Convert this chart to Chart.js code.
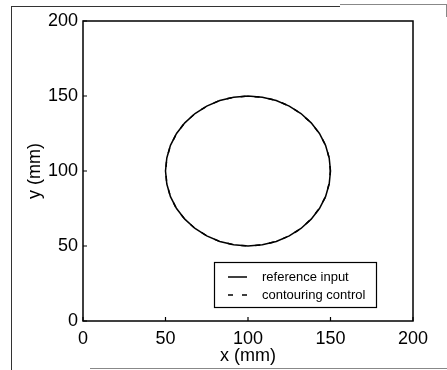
<!DOCTYPE html>
<html>
<head>
<meta charset="utf-8">
<script src="https://cdn.jsdelivr.net/npm/chart.js@4/dist/chart.umd.min.js"></script>
<style>
  html, body { margin: 0; padding: 0; background: #fff; }
  #wrap { width: 447px; height: 370px; }
</style>
</head>
<body>
<div id="wrap"><canvas id="c" width="447" height="370"></canvas></div>
<script>
// Circular path, 10-degree steps (mm)
const refX = [150,149.2,147,143.3,138.3,132.1,125,117.1,108.7,100,91.3,82.9,75,67.9,61.7,56.7,53,50.8,50,50.8,53,56.7,61.7,67.9,75,82.9,91.3,100,108.7,117.1,125,132.1,138.3,143.3,147,149.2,150];
const refY = [100,108.7,117.1,125,132.1,138.3,143.3,147,149.2,150,149.2,147,143.3,138.3,132.1,125,117.1,108.7,100,91.3,82.9,75,67.9,61.7,56.7,53,50.8,50,50.8,53,56.7,61.7,67.9,75,82.9,91.3,100];
// Contouring-control response (tracks the reference closely)
const ctlX = [149.9,149.2,147.1,143.2,138.3,132,125.1,117.1,108.6,100,91.3,82.8,75,67.9,61.6,56.7,53.1,50.8,50.1,50.8,53,56.6,61.7,67.9,75.1,82.9,91.2,100,108.7,117.2,125,132.1,138.2,143.3,147,149.1,149.9];
const ctlY = [100,108.6,117.1,125.1,132.1,138.2,143.3,147.1,149.2,149.9,149.2,147,143.2,138.3,132.1,125,117.2,108.7,100.1,91.3,82.9,75,67.8,61.7,56.7,53,50.9,50,50.8,53.1,56.7,61.6,67.9,75.1,82.9,91.4,100];
const seriesNames = ['reference input', 'contouring control'];
const tickValues = [0, 50, 100, 150, 200];

const toPoints = (xs, ys) => xs.map((x, i) => ({ x: x, y: ys[i] }));
const FONT = '"Liberation Sans", Arial, Helvetica, sans-serif';

// Figure frame, axes box, inward ticks and the inset legend
const decorations = {
  id: 'decorations',
  beforeDraw(chart) {
    const ctx = chart.ctx;
    ctx.save();
    ctx.lineWidth = 1;
    ctx.strokeStyle = '#333';
    ctx.beginPath();
    ctx.moveTo(11.5, 6); ctx.lineTo(11.5, 370);
    ctx.moveTo(11, 6.5); ctx.lineTo(340, 6.5);
    ctx.stroke();
    ctx.strokeStyle = '#888';
    ctx.beginPath();
    ctx.moveTo(340, 4.5); ctx.lineTo(447, 4.5);
    ctx.moveTo(446.5, 4); ctx.lineTo(446.5, 17);
    ctx.moveTo(90, 368.5); ctx.lineTo(447, 368.5);
    ctx.stroke();
    ctx.restore();
  },
  afterDatasetsDraw(chart) {
    const ctx = chart.ctx;
    const a = chart.chartArea;
    const xs = chart.scales.x, ys = chart.scales.y;
    ctx.save();
    ctx.strokeStyle = '#000';
    ctx.lineWidth = 1.5;
    ctx.strokeRect(a.left, a.top, a.right - a.left, a.bottom - a.top);
    // inward tick marks on bottom and left axes
    ctx.lineWidth = 1.2;
    ctx.beginPath();
    tickValues.forEach(v => {
      const px = xs.getPixelForValue(v);
      ctx.moveTo(px, a.bottom); ctx.lineTo(px, a.bottom - 4);
      const py = ys.getPixelForValue(v);
      ctx.moveTo(a.left, py); ctx.lineTo(a.left + 4, py);
    });
    ctx.stroke();

    // legend box in the lower-right corner of the axes
    const bx = a.right - 199, by = a.bottom - 59, bw = 162, bh = 45;
    ctx.fillStyle = '#fff';
    ctx.fillRect(bx, by, bw, bh);
    ctx.lineWidth = 1.2;
    ctx.strokeRect(bx + 0.5, by + 0.5, bw, bh);
    ctx.font = '13px ' + FONT;
    ctx.textBaseline = 'middle';
    ctx.textAlign = 'left';
    ctx.fillStyle = '#000';
    chart.data.datasets.forEach((ds, i) => {
      const cy = by + 15 + i * 18;
      ctx.strokeStyle = ds.borderColor;
      ctx.lineWidth = ds.borderWidth;
      ctx.setLineDash(ds.borderDash || []);
      ctx.beginPath();
      ctx.moveTo(bx + 14, cy); ctx.lineTo(bx + 33, cy);
      ctx.stroke();
      ctx.setLineDash([]);
      ctx.fillText(ds.label, bx + 48, cy);
    });
    ctx.restore();
  }
};

new Chart(document.getElementById('c'), {
  type: 'scatter',
  data: {
    datasets: [
      {
        label: seriesNames[0],
        data: toPoints(refX, refY),
        showLine: true,
        borderColor: '#000',
        borderWidth: 1.5,
        pointRadius: 0,
        tension: 0
      },
      {
        label: seriesNames[1],
        data: toPoints(ctlX, ctlY),
        showLine: true,
        borderColor: '#000',
        borderWidth: 1.5,
        borderDash: [5, 9],
        pointRadius: 0,
        tension: 0
      }
    ]
  },
  options: {
    responsive: false,
    animation: false,
    events: [],
    layout: { padding: { top: 21, right: 34, left: 0, bottom: 0 } },
    plugins: { legend: { display: false }, tooltip: { enabled: false } },
    scales: {
      x: {
        type: 'linear',
        min: 0, max: 200,
        afterBuildTicks: s => { s.ticks = tickValues.map(v => ({ value: v })); },
        afterFit: s => { s.height = 49; },
        grid: { display: false, drawTicks: false },
        border: { display: false },
        ticks: { color: '#000', font: { family: FONT, size: 18 }, padding: 7, maxRotation: 0 },
        title: { display: true, text: 'x (mm)', color: '#000', font: { family: FONT, size: 18 }, padding: { top: 0, bottom: 3 } }
      },
      y: {
        type: 'linear',
        min: 0, max: 200,
        afterBuildTicks: s => { s.ticks = tickValues.map(v => ({ value: v })); },
        afterFit: s => { s.width = 83; },
        grid: { display: false, drawTicks: false },
        border: { display: false },
        ticks: { color: '#000', font: { family: FONT, size: 18 }, padding: 5 },
        title: { display: true, text: 'y (mm)', color: '#000', font: { family: FONT, size: 18 }, padding: { top: 24, bottom: 0 } }
      }
    }
  },
  plugins: [decorations]
});
</script>
</body>
</html>
